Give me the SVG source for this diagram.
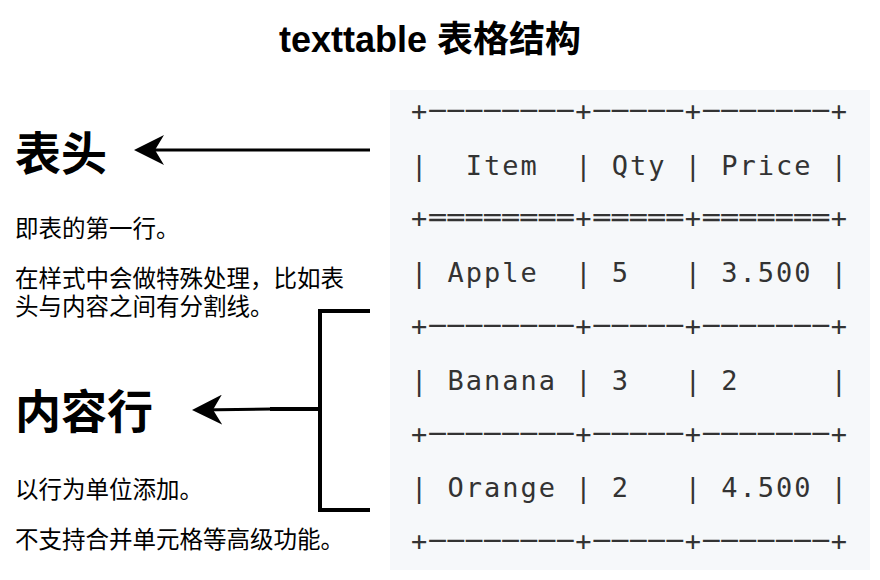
<svg xmlns="http://www.w3.org/2000/svg" width="880" height="580" viewBox="0 0 880 580">
<style>
.cj{font-family:"Liberation Sans","Noto Sans CJK SC",sans-serif;fill:#000}
.mono{font-family:"DejaVu Sans Mono","Liberation Mono",monospace;font-size:27px;fill:#333;white-space:pre}
.ln{stroke:#000;fill:none}
</style>
<defs>
<marker id="ah" markerWidth="30" markerHeight="30" refX="8" refY="5" orient="auto" markerUnits="userSpaceOnUse" viewBox="0 0 10 10">
<path d="M10,5 L0,0 L3,5 L0,10 Z" fill="#000"/>
</marker>
</defs>
<rect width="880" height="580" fill="#fff"/>
<text class="cj" x="430" y="52" font-size="36" font-weight="bold" text-anchor="middle">texttable 表格结构</text>
<g id="table" xml:space="preserve">
<rect x="390" y="90" width="480" height="480" fill="#f6f8fa"/>
<text class="mono" x="411" y="120" textLength="436" lengthAdjust="spacing">+────────+─────+───────+</text>
<text class="mono" x="411" y="175" textLength="436" lengthAdjust="spacing">|  Item  | Qty | Price |</text>
<text class="mono" x="411" y="227" textLength="436" lengthAdjust="spacing">+════════+═════+═══════+</text>
<text class="mono" x="411" y="282" textLength="436" lengthAdjust="spacing">| Apple  | 5   | 3.500 |</text>
<text class="mono" x="411" y="335" textLength="436" lengthAdjust="spacing">+────────+─────+───────+</text>
<text class="mono" x="411" y="390" textLength="436" lengthAdjust="spacing">| Banana | 3   | 2     |</text>
<text class="mono" x="411" y="443" textLength="436" lengthAdjust="spacing">+────────+─────+───────+</text>
<text class="mono" x="411" y="497" textLength="436" lengthAdjust="spacing">| Orange | 2   | 4.500 |</text>
<text class="mono" x="411" y="550" textLength="436" lengthAdjust="spacing">+────────+─────+───────+</text>
</g>
<g id="header">
<text class="cj" x="15" y="170" font-size="46" font-weight="bold">表头</text>
<text class="cj" x="15" y="237" font-size="23.5">即表的第一行。</text>
<text class="cj" x="15" y="287" font-size="23.5">在样式中会做特殊处理，比如表</text>
<text class="cj" x="15" y="315" font-size="23.5">头与内容之间有分割线。</text>
</g>
<g id="rows">
<text class="cj" x="15" y="428" font-size="46" font-weight="bold">内容行</text>
<text class="cj" x="15" y="498" font-size="23.5">以行为单位添加。</text>
<text class="cj" x="15" y="548" font-size="23.5">不支持合并单元格等高级功能。</text>
</g>
<g id="connectors">
<line class="ln" x1="370" y1="150" x2="140" y2="150" stroke-width="3" marker-end="url(#ah)"/>
<path class="ln" d="M370,311 H320 V510 H370" stroke-width="4"/>
<line class="ln" x1="320" y1="409" x2="270" y2="409" stroke-width="4"/>
<line class="ln" x1="272" y1="409" x2="198" y2="410" stroke-width="3" marker-end="url(#ah)"/>
</g>
</svg>
